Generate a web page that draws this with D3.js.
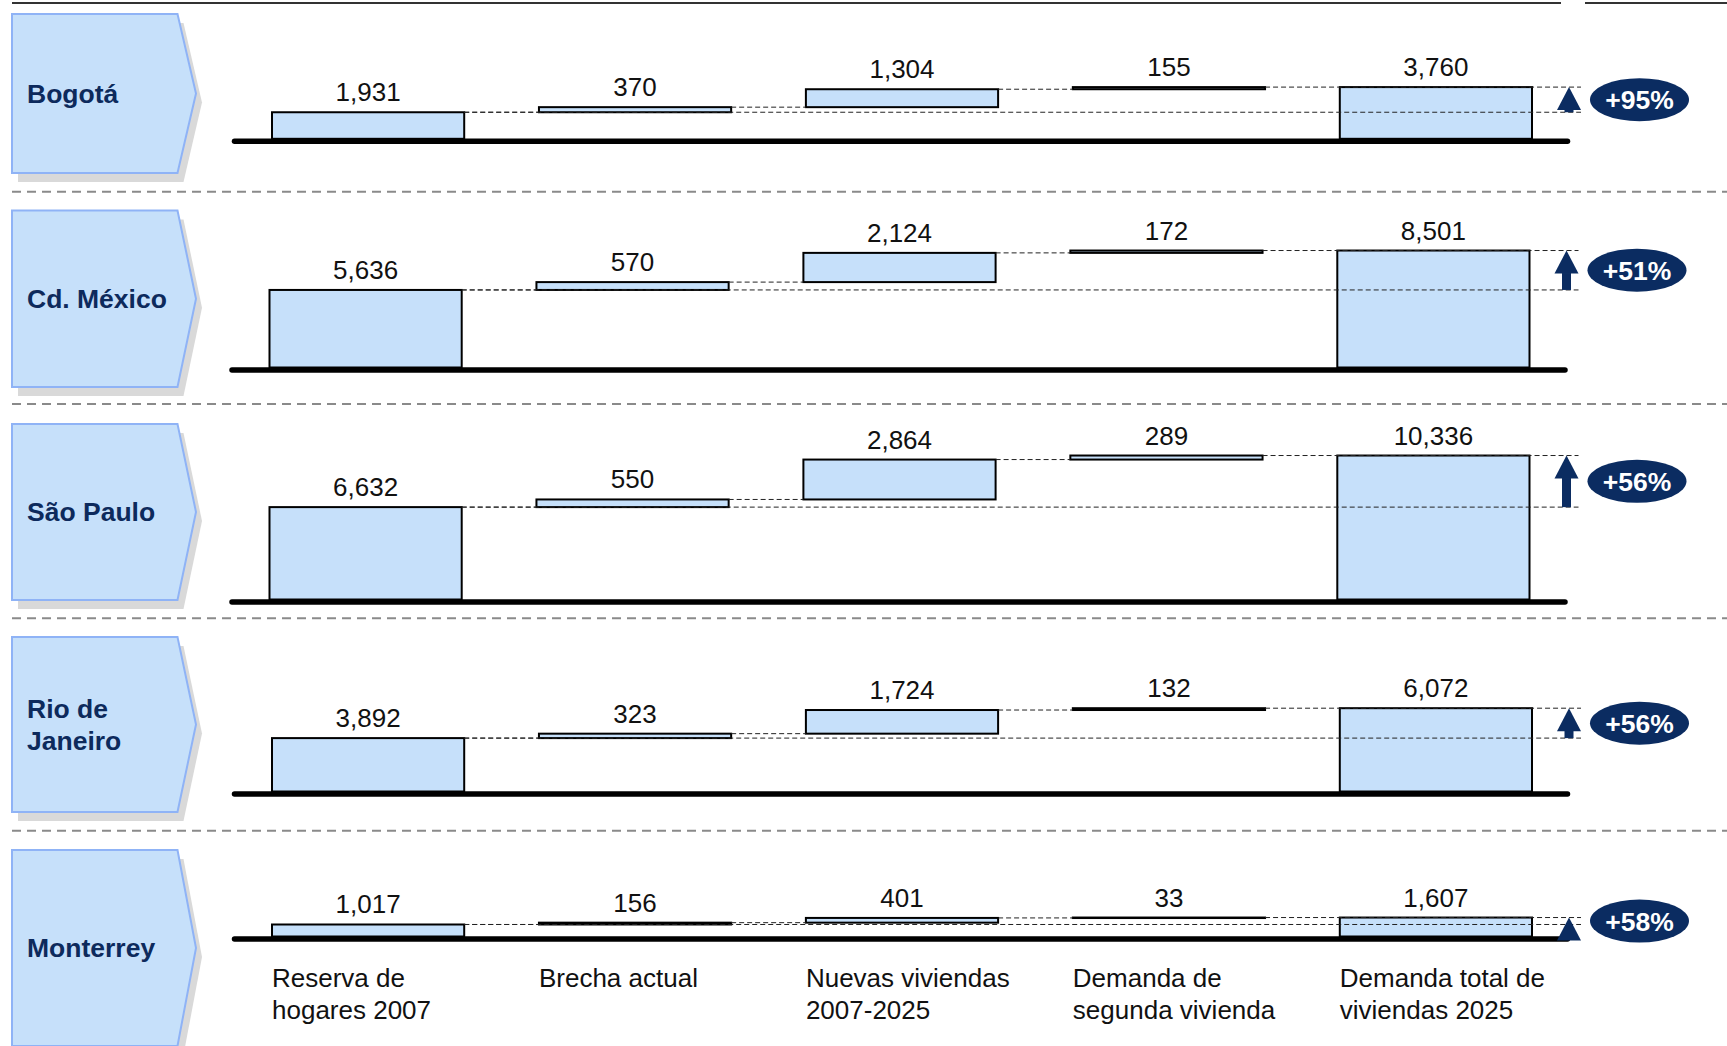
<!DOCTYPE html>
<html>
<head>
<meta charset="utf-8">
<script src="https://cdn.jsdelivr.net/npm/d3@7"></script>
<style>
  html, body { margin: 0; padding: 0; background: #ffffff; }
  svg { display: block; }
  text { font-family: "Liberation Sans", Arial, Helvetica, sans-serif; }
</style>
</head>
<body>
<svg id="chart" width="1727" height="1046"></svg>
<script>
// ---------------- DATA ----------------
const cities = ["Bogotá", "Cd. México", "São Paulo", "Rio de Janeiro", "Monterrey"];
const cityLines = [["Bogotá"], ["Cd. México"], ["São Paulo"], ["Rio de", "Janeiro"], ["Monterrey"]];
const categories = ["Reserva de hogares 2007", "Brecha actual", "Nuevas viviendas 2007-2025",
                    "Demanda de segunda vivienda", "Demanda total de viviendas 2025"];
const categoryLines = [["Reserva de", "hogares 2007"], ["Brecha actual"], ["Nuevas viviendas", "2007-2025"],
                       ["Demanda de", "segunda vivienda"], ["Demanda total de", "viviendas 2025"]];
const reserva  = [1931, 5636, 6632, 3892, 1017];
const brecha   = [370, 570, 550, 323, 156];
const nuevas   = [1304, 2124, 2864, 1724, 401];
const segunda  = [155, 172, 289, 132, 33];
const total    = [3760, 8501, 10336, 6072, 1607];
const growthLabels = ["+95%", "+51%", "+56%", "+56%", "+58%"];

// ---------------- LAYOUT ----------------
const W = 1727, H = 1046;
const panelTop    = [14, 210.5, 424, 637, 850];
const panelBottom = [173, 387, 600, 812, 1046];
const baselineY   = [141.3, 370, 602, 794, 939];
const panelDx     = [0, -2.5, -2.5, 0, 0];
const pxPer10k    = [137.5, 137.6, 139.3, 137.2, 118];
const separatorsY = [191.7, 404, 618.3, 830.7];

const navy = "#0b2c61";
const barFill = "#c6e0fa";
const chevFill = "#c6e0fa";
const chevStroke = "#8fb3f6";

const svg = d3.select("#chart");

// top rule
[[12, 1561], [1585, 1727]].forEach(([a, b]) => {
  svg.append("line").attr("x1", a).attr("x2", b).attr("y1", 3).attr("y2", 3)
    .attr("stroke", "#333").attr("stroke-width", 2);
});

// separators
svg.selectAll("line.sep").data(separatorsY).enter().append("line")
  .attr("class", "sep")
  .attr("x1", 12).attr("x2", W).attr("y1", d => d).attr("y2", d => d)
  .attr("stroke", "#8a8a8a").attr("stroke-width", 2).attr("stroke-dasharray", "9,6");

const xBand = d3.scaleBand().domain(categories).range([272, 1532]).paddingInner(0.28).paddingOuter(0);

cities.forEach((city, i) => {
  const g = svg.append("g");
  const dx = panelDx[i];
  const x = c => xBand(c) + dx;
  const bw = xBand.bandwidth();
  const baseTop = baselineY[i] - 2.5;
  const y = d3.scaleLinear().domain([0, 10000]).range([baseTop, baseTop - pxPer10k[i]]);

  // chevron label box with shadow
  const y0 = panelTop[i], y1 = panelBottom[i], yc = (y0 + y1) / 2;
  const chev = (ox, oy) => `M${12 + ox},${y0 + oy} L${177.5 + ox},${y0 + oy} L${196 + ox},${yc + oy} L${177.5 + ox},${y1 + oy} L${12 + ox},${y1 + oy} Z`;
  g.append("path").attr("d", chev(6, 9)).attr("fill", "#d9d9d9");
  g.append("path").attr("d", chev(0, 0)).attr("fill", chevFill).attr("stroke", chevStroke).attr("stroke-width", 2);
  const lines = cityLines[i];
  const lh = 31.5;
  lines.forEach((t, k) => {
    g.append("text").attr("x", 27)
      .attr("y", yc + 9.3 - (lines.length - 1) * lh / 2 + k * lh)
      .attr("font-size", 26.5).attr("font-weight", "bold").attr("fill", "#0d2a5c").text(t);
  });

  // waterfall steps
  const r = reserva[i], b = brecha[i], n = nuevas[i], s = segunda[i], t = total[i];
  const steps = [
    { cat: categories[0], lo: 0, hi: r, v: r },
    { cat: categories[1], lo: r, hi: r + b, v: b },
    { cat: categories[2], lo: r + b, hi: r + b + n, v: n },
    { cat: categories[3], lo: r + b + n, hi: t, v: s },
    { cat: categories[4], lo: 0, hi: t, v: t }
  ];

  // baseline
  g.append("line").attr("x1", 234.5 + dx).attr("x2", 1567.5 + dx)
    .attr("y1", baselineY[i]).attr("y2", baselineY[i])
    .attr("stroke", "#000").attr("stroke-width", 5.5).attr("stroke-linecap", "round");

  // bars
  g.selectAll("rect.bar").data(steps).enter().append("rect")
    .attr("class", "bar")
    .attr("x", d => x(d.cat)).attr("width", bw)
    .attr("y", d => y(d.hi)).attr("height", d => Math.max(0.5, y(d.lo) - y(d.hi)))
    .attr("fill", barFill).attr("stroke", "#000").attr("stroke-width", 2);

  // dashed connectors
  const dash = (xa, xb, yy) => g.append("line").attr("x1", xa).attr("x2", xb)
    .attr("y1", yy).attr("y2", yy).attr("stroke", "#222").attr("stroke-width", 1)
    .attr("stroke-dasharray", "5,3");
  for (let k = 0; k < 3; k++) {
    dash(x(steps[k].cat) + bw, x(steps[k + 1].cat), y(steps[k].hi));
  }
  const xEnd = 1581 + dx;
  dash(x(categories[0]) + bw, xEnd, y(r));
  dash(x(categories[3]) + bw, xEnd, y(t));

  // value labels
  g.selectAll("text.val").data(steps).enter().append("text")
    .attr("class", "val")
    .attr("x", d => x(d.cat) + bw / 2).attr("y", d => y(d.hi) - 11)
    .attr("text-anchor", "middle").attr("font-size", 26).attr("fill", "#111")
    .text(d => d3.format(",")(d.v));

  // arrow
  const ax = 1569 + dx, yTop = y(t), yLow = y(r);
  const headH = 23, headHalf = 12, stemHalf = 4.5;
  const headBase = yTop + headH;
  if (yLow > headBase) {
    g.append("rect").attr("x", ax - stemHalf).attr("width", stemHalf * 2)
      .attr("y", headBase - 0.5).attr("height", yLow - headBase + 0.5).attr("fill", navy);
  }
  g.append("path").attr("d", `M${ax},${yTop} L${ax + headHalf},${headBase} L${ax - headHalf},${headBase} Z`)
    .attr("fill", navy);

  // growth badge
  const by = (yTop + yLow) / 2, bx = 1639.5 + dx;
  g.append("ellipse").attr("cx", bx).attr("cy", by).attr("rx", 49.5).attr("ry", 21.5).attr("fill", navy);
  g.append("text").attr("x", bx).attr("y", by + 9.5).attr("text-anchor", "middle")
    .attr("font-size", 26.5).attr("font-weight", "bold").attr("fill", "#fff").text(growthLabels[i]);
});

// category labels at bottom
categories.forEach((c, k) => {
  categoryLines[k].forEach((t, j) => {
    svg.append("text").attr("x", xBand(c)).attr("y", 987 + j * 32)
      .attr("font-size", 26).attr("fill", "#111").text(t);
  });
});
</script>
</body>
</html>
